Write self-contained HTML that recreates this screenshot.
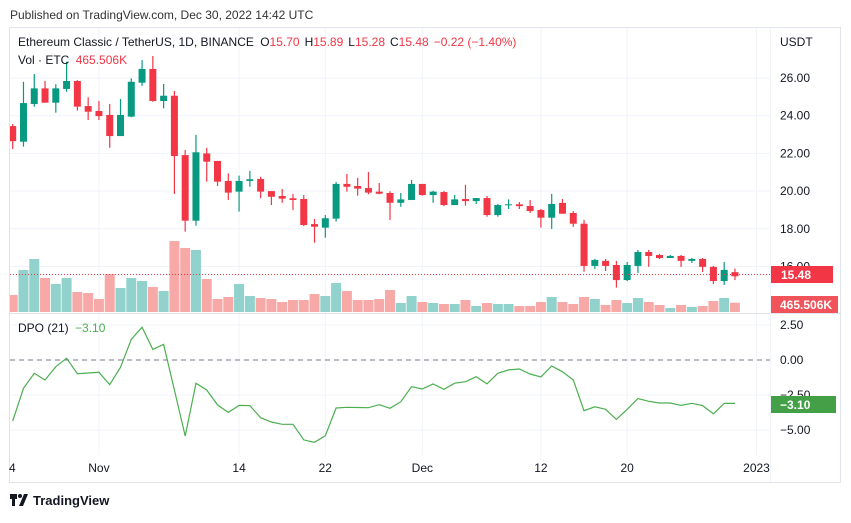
<!DOCTYPE html>
<html><head><meta charset="utf-8">
<style>
html,body{margin:0;padding:0;background:#fff;}
body{width:851px;height:518px;overflow:hidden;font-family:"Liberation Sans",sans-serif;}
svg text{font-family:"Liberation Sans",sans-serif;}
</style></head>
<body>
<svg id="chart" width="851" height="518" xmlns="http://www.w3.org/2000/svg">
  <text x="10" y="19" font-size="12" fill="#333">Published on TradingView.com, Dec 30, 2022 14:42 UTC</text>
  <rect x="9.5" y="27.5" width="831" height="455" fill="#fff" stroke="#e0e3eb"/>
  <g id="grid"></g>
  <line x1="10" x2="840" y1="313.5" y2="313.5" stroke="#e0e3eb"/>
  <line x1="770.5" x2="770.5" y1="28" y2="482" stroke="#f0f3fa"/>
  <defs><clipPath id="cp"><rect x="10" y="28" width="760" height="285"/></clipPath>
  <clipPath id="cp2"><rect x="10" y="314" width="760" height="141"/></clipPath></defs>
  <g id="vol" clip-path="url(#cp)"></g>
  <g id="candles" clip-path="url(#cp)"></g>
  <line x1="10" x2="770" y1="274.5" y2="274.5" stroke="#f23645" stroke-dasharray="1,2"/>
  <line x1="10" x2="770" y1="360" y2="360" stroke="#787b86" stroke-dasharray="5,4"/>
  <g id="dpo" clip-path="url(#cp2)"></g>
  <g id="axes"></g>
  <text x="18" y="46" font-size="12" fill="#131722">Ethereum Classic / TetherUS, 1D, BINANCE <tspan dx="3">O</tspan><tspan fill="#f23645">15.70</tspan><tspan dx="5">H</tspan><tspan fill="#f23645">15.89</tspan><tspan dx="5">L</tspan><tspan fill="#f23645">15.28</tspan><tspan dx="5">C</tspan><tspan fill="#f23645">15.48</tspan><tspan dx="5" fill="#f23645">−0.22 (−1.40%)</tspan></text>
  <text x="18" y="64" font-size="12" fill="#131722">Vol · ETC <tspan dx="3" fill="#f23645">465.506K</tspan></text>
  <text x="18" y="332" font-size="12" fill="#131722">DPO (21) <tspan dx="3" fill="#4caf50">−3.10</tspan></text>
  <text x="780" y="46" font-size="12" fill="#131722">USDT</text>
  <rect x="771" y="266" width="62" height="17" fill="#f23645"/>
  <text x="781" y="279" font-size="12" fill="#fff" font-weight="bold">15.48</text>
  <rect x="771" y="296" width="67" height="17" fill="#f0545a"/>
  <text x="780" y="309" font-size="12" fill="#fff" font-weight="bold">465.506K</text>
  <rect x="771" y="396" width="65" height="17" fill="#43a047"/>
  <text x="780" y="409" font-size="12" fill="#fff" font-weight="bold">−3.10</text>
  <g>
    <rect x="10" y="494" width="7" height="5" fill="#131722"/><rect x="12" y="494" width="3" height="12" fill="#131722"/>
    <circle cx="20" cy="496" r="2" fill="#131722"/><path d="M19 506 L24 494 L28 494 L23 506 Z" fill="#131722"/>
    <text x="33" y="505" font-size="13" font-weight="bold" fill="#131722">TradingView</text>
  </g>
</svg>
<script>
const opens=[23.45,22.62,24.62,25.45,24.69,25.42,25.84,24.51,24.25,24.04,22.92,23.95,25.75,26.48,24.78,25.06,21.91,18.43,22.0,21.6,20.54,19.97,20.54,20.64,20.0,19.74,19.62,19.58,18.25,18.06,18.54,20.38,20.27,20.16,19.97,19.90,19.38,19.53,20.38,19.79,19.95,19.26,19.58,19.47,19.63,18.73,19.26,19.30,19.21,19.0,18.59,19.37,18.84,18.27,16.03,16.30,16.08,15.28,16.03,16.77,16.61,16.45,16.56,16.30,16.40,15.98,15.23,15.70];
const highs=[23.56,25.80,26.21,25.84,25.67,26.86,25.89,24.98,24.78,24.62,24.89,25.98,26.95,27.17,25.68,25.31,22.18,22.98,22.30,21.6,20.94,20.82,21.07,20.76,20.0,20.11,19.85,19.79,18.52,18.73,20.48,20.91,20.70,21.01,20.43,19.99,19.90,20.59,20.38,20.02,20.0,19.79,20.33,19.63,19.74,19.32,19.56,19.42,19.53,19.05,19.85,19.58,18.94,18.47,16.40,16.40,16.30,16.24,16.88,16.88,16.67,16.61,16.61,16.45,16.45,16.03,16.24,15.89];
const lows=[22.23,22.36,24.48,24.69,24.16,25.27,24.27,23.77,23.77,22.30,22.92,23.92,25.58,24.74,24.39,19.85,17.85,18.16,20.50,20.27,19.53,18.91,20.23,19.62,19.26,19.38,19.0,18.15,17.26,17.53,18.38,19.97,19.76,19.83,19.83,18.47,19.17,19.53,19.76,19.38,19.2,19.26,19.23,19.32,18.64,18.64,19.05,19.05,18.84,18.06,17.99,18.80,18.10,15.72,15.87,15.76,14.88,15.23,15.66,15.98,16.40,16.45,15.98,16.19,15.71,15.07,15.02,15.28];
const closes=[22.65,24.67,25.45,24.69,25.45,25.84,24.48,24.21,23.98,22.92,24.04,25.80,26.48,24.78,25.06,21.86,18.43,22.06,21.56,20.50,19.92,20.54,20.63,19.97,19.70,19.60,19.53,18.20,18.11,18.56,20.38,20.23,20.13,19.92,19.86,19.38,19.56,20.38,19.79,19.97,19.26,19.56,19.47,19.63,18.73,19.26,19.30,19.20,18.94,18.59,19.32,18.80,18.27,16.03,16.35,16.03,15.28,16.08,16.77,16.56,16.45,16.56,16.30,16.40,15.98,15.23,15.82,15.48];
const volumesK=[850,2100,2650,1700,1400,1700,1000,950,650,1900,1200,1700,1550,1250,1050,3550,3200,3100,1650,650,750,1400,800,700,650,500,600,600,900,800,1450,1050,600,600,650,1100,450,800,500,450,400,400,600,300,450,400,400,300,300,500,750,500,400,750,650,350,600,450,700,500,350,200,350,250,300,550,700,465.506];
const dpoValues=[-4.36,-2.02,-0.95,-1.43,-0.48,0.12,-0.98,-0.93,-0.88,-1.76,-0.52,1.48,2.34,0.76,1.12,-2.14,-5.43,-1.66,-2.14,-3.21,-3.74,-3.24,-3.26,-4.12,-4.43,-4.59,-4.59,-5.71,-5.88,-5.41,-3.43,-3.38,-3.39,-3.41,-3.19,-3.45,-2.98,-1.91,-2.07,-1.71,-2.09,-1.66,-1.55,-1.19,-1.71,-0.95,-0.71,-0.64,-1.0,-1.21,-0.43,-0.84,-1.43,-3.62,-3.34,-3.52,-4.24,-3.52,-2.76,-2.95,-3.07,-3.07,-3.24,-3.09,-3.26,-3.84,-3.09,-3.10];
const priceTicks=[26,24,22,20,18,16];
const dpoTicks=[2.5,0,-2.5,-5];
const dateLabels=["4","Nov","14","22","Dec","12","20","2023"];
const dateIndex=[0,8,21,29,38,49,57,69];

const NS="http://www.w3.org/2000/svg";
const xOf=i=>12.7+i*10.78;
const yPrice=p=>78+(26-p)*18.85;
const yVol=v=>312-v/50;
const yDpo=v=>360-v*14;
function mk(tag,attrs,parent){const e=document.createElementNS(NS,tag);for(const k in attrs)e.setAttribute(k,attrs[k]);parent.appendChild(e);return e;}
const grid=document.getElementById('grid'),axes=document.getElementById('axes');
priceTicks.forEach(p=>{
  const l=mk('line',{x1:10,x2:770,y1:yPrice(p),y2:yPrice(p),stroke:'#f0f3fa'},grid);
  
  
  const t=mk('text',{x:780,y:yPrice(p)+4,'font-size':12,fill:'#131722'},axes);
  
  
  t.textContent=p.toFixed(2);
});
dpoTicks.forEach(v=>{
  const l=mk('line',{x1:10,x2:770,y1:yDpo(v),y2:yDpo(v),stroke:'#f0f3fa'},grid);
  
  
  const t=mk('text',{x:780,y:yDpo(v)+4,'font-size':12,fill:'#131722'},axes);
  
  
  t.textContent=(v<0?'−':'')+Math.abs(v).toFixed(2);
});
dateLabels.forEach((s,k)=>{
  const x=xOf(dateIndex[k]);
  if(k>0){const l=mk('line',{x1:x,x2:x,y1:28,y2:455,stroke:'#f0f3fa'},grid);
  
  }
  const t=mk('text',{x:k===0?9:x,y:472,'font-size':12,fill:'#131722','text-anchor':k===0?'start':'middle'},axes);
  
  
  t.textContent=s;
});
const vol=document.getElementById('vol'),cg=document.getElementById('candles');
opens.forEach((o,i)=>{
  const c=closes[i],up=c>=o,x=xOf(i);
  const vb=mk('rect',{x:x-5,y:yVol(volumesK[i]),width:10,height:312-yVol(volumesK[i]),fill:up?'#92d2cc':'#f7a9a7'},vol);
  
  
  const col=up?'#089981':'#f23645';
  const w=mk('line',{x1:x,x2:x,y1:yPrice(highs[i]),y2:yPrice(lows[i]),stroke:col,'stroke-width':1.2},cg);
  
  
  const top=yPrice(Math.max(o,c)),bot=yPrice(Math.min(o,c));
  const b=mk('rect',{x:x-3.5,y:top,width:7,height:Math.max(1,bot-top),fill:col},cg);
  
  
});
const pts=dpoValues.map((v,i)=>xOf(i).toFixed(1)+','+yDpo(v).toFixed(1)).join(' ');
const pl=mk('polyline',{points:pts,fill:'none',stroke:'#4caf50','stroke-width':1.2},document.getElementById('dpo'));


</script>
</body></html>
